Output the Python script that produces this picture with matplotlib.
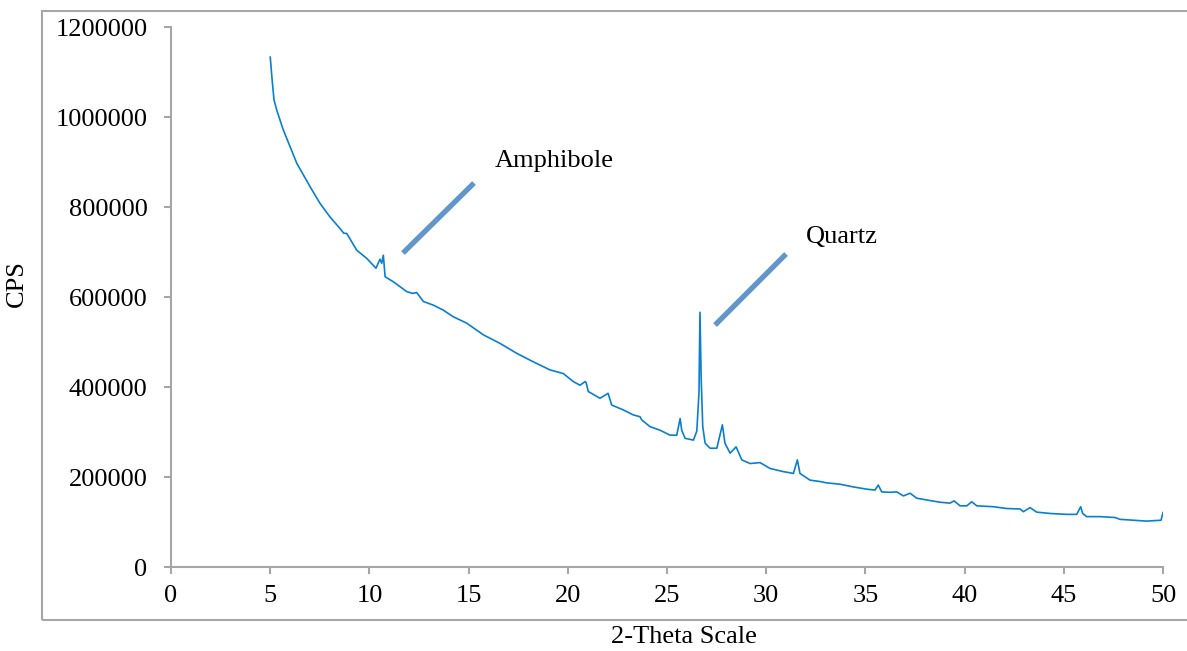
import matplotlib
matplotlib.use("Agg")
import matplotlib.pyplot as plt
from matplotlib.patches import Rectangle

# XRD scan (2-theta, counts per second)
two_theta = [5.00, 5.10, 5.19, 5.33, 5.66, 6.00, 6.34, 7.01, 7.51, 8.01, 8.52, 8.70, 8.86,
             9.36, 9.86, 10.33, 10.53, 10.62, 10.70, 10.79, 11.20, 11.54, 11.88, 12.18,
             12.38, 12.72, 13.22, 13.72, 14.23, 14.90, 15.74, 16.58, 17.42, 18.26, 19.10,
             19.77, 20.28, 20.61, 20.87, 20.92, 21.03, 21.62, 22.03, 22.21, 22.80, 23.30,
             23.64, 23.72, 24.14, 24.65, 25.15, 25.49, 25.66, 25.74, 25.91, 26.33, 26.50,
             26.61, 26.66, 26.72, 26.80, 26.92, 27.17, 27.51, 27.79, 27.92, 28.18, 28.48,
             28.77, 29.18, 29.69, 30.19, 30.86, 31.37, 31.57, 31.70, 32.21, 32.71, 33.05,
             33.72, 34.39, 35.07, 35.48, 35.65, 35.82, 36.24, 36.58, 36.91, 37.25, 37.58,
             38.09, 38.76, 39.26, 39.47, 39.77, 40.11, 40.36, 40.61, 41.45, 42.12, 42.79,
             42.96, 43.30, 43.63, 44.30, 45.15, 45.65, 45.85, 45.95, 46.15, 46.82, 47.58,
             47.83, 48.50, 49.18, 49.90, 50.00]
cps = [1133000, 1080000, 1038000, 1015000, 971000, 934000, 897000, 845000, 808000, 778000,
       752000, 742000, 741000, 704000, 686000, 664000, 684000, 675000, 693000, 645000,
       634000, 623000, 612000, 608000, 610000, 590000, 582000, 571000, 556000, 542000,
       516000, 497000, 475000, 456000, 438000, 430000, 412000, 404000, 412000, 410000,
       390000, 375000, 386000, 360000, 349000, 338000, 334000, 327000, 312000, 304000,
       293000, 293000, 330000, 304000, 286000, 282000, 302000, 387000, 566000, 420000,
       312000, 275000, 264000, 264000, 316000, 275000, 253000, 267000, 238000, 230000,
       232000, 219000, 212000, 208000, 238000, 208000, 193000, 190000, 187000, 184000,
       178000, 173000, 171000, 182000, 167000, 166000, 167000, 158000, 164000, 153000,
       149000, 144000, 142000, 147000, 136000, 136000, 145000, 136000, 134000, 130000,
       129000, 123000, 132000, 122000, 119000, 117000, 117000, 134000, 119000, 112000,
       112000, 110000, 106000, 104000, 102000, 104000, 121000]

x_ticks = [0, 5, 10, 15, 20, 25, 30, 35, 40, 45, 50]
y_ticks = [0, 200000, 400000, 600000, 800000, 1000000, 1200000]

# callouts: label, label position, leader line (x pair, y pair)
callout_labels = ["Amphibole", "Quartz"]
callout_text_xy = [(16.3, 902000), (32.0, 733000)]
callout_line_x = [(11.69, 15.27), (27.42, 31.0)]
callout_line_y = [(697800, 853300), (537800, 695600)]

ftsz = 19
grey = "#a6a6a6"
plt.rcParams["font.family"] = ["Liberation Serif", "DejaVu Serif"]

fig = plt.figure(figsize=(11.87, 6.51), dpi=100)
ax = fig.add_axes([0.1441, 0.1290, 0.8357, 0.8295])

ax.plot(two_theta, cps, color="#0a7fcf", linewidth=1.2)

for lab, (tx, ty), lx, ly in zip(callout_labels, callout_text_xy, callout_line_x, callout_line_y):
    ax.plot(lx, ly, color="#6196cc", linewidth=3.8, solid_capstyle="butt")
    ax.text(tx, ty, lab, fontsize=ftsz, va="center", ha="left")

ax.set_xlim(0, 50)
ax.set_ylim(0, 1200000)
ax.set_xticks(x_ticks)
ax.set_yticks(y_ticks)
ax.set_xticklabels([str(v) for v in x_ticks])
ax.set_yticklabels([str(v) for v in y_ticks])

for side in ["top", "right"]:
    ax.spines[side].set_visible(False)
for side in ["left", "bottom"]:
    ax.spines[side].set_color(grey)
    ax.spines[side].set_linewidth(1.5)
ax.tick_params(axis="both", direction="out", length=5, width=1.5, color=grey,
               labelsize=ftsz, labelcolor="black")
ax.tick_params(axis="y", pad=12)
ax.tick_params(axis="x", pad=8)

fig.text(0.0143, 0.565, "CPS", rotation=90, fontsize=ftsz, ha="center", va="center")
fig.text(0.576, 0.022, "2-Theta Scale", fontsize=ftsz, ha="center", va="center")

# chart-area border like the spreadsheet export
fig.patches.append(Rectangle((0.0354, 0.0476), 1.0, 0.9355, transform=fig.transFigure,
                             fill=False, edgecolor=grey, linewidth=1.5))

plt.savefig("out.png", dpi=100)
